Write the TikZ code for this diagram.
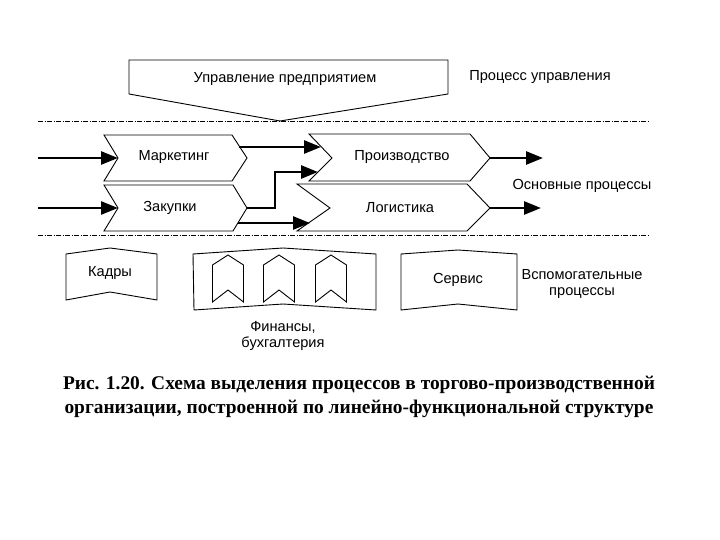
\documentclass[tikz,border=0pt]{standalone}
\usepackage{fontspec}
\setmainfont{Liberation Sans}
\newfontfamily\capfont{Liberation Serif}
\usetikzlibrary{arrows.meta}
\tikzset{
  shp/.style={draw=black, line width=0.9pt, line join=miter, fill=white},
  lbl/.style={font=\fontsize{14.6}{16.5}\selectfont, inner sep=0pt},
  flow/.style={line width=2.6pt, -{Triangle[length=17pt,width=13pt]}},
  sep/.style={line width=0.8pt, dash pattern=on 5pt off 1.5pt on 1pt off 1.5pt},
  captext/.style={font=\capfont\bfseries\fontsize{19.4}{24}\selectfont, inner sep=0pt, align=center}
}
\begin{document}
\begin{tikzpicture}[x=1pt,y=-1pt]
\useasboundingbox (0,0) rectangle (720,540);
% separators
\coordinate (s1a) at (38,121); \coordinate (s1b) at (648,121);
\coordinate (s2a) at (38,235); \coordinate (s2b) at (648,235);
\draw[sep] (s1a) -- (s1b);
\draw[sep] (s2a) -- (s2b);
% management
\draw[shp] (129,60) -- (448,60) -- (448,94) -- (280,121) -- (129,94) -- cycle;
\node[lbl] (upr) at (285,79) {Управление предприятием};
\node[lbl] (lproc) at (540,77) {Процесс управления};
% main processes
\draw[shp] (104,135) -- (232,135) -- (247,158) -- (232,181) -- (104,181) -- (118,158) -- cycle;
\node[lbl] (mark) at (174,157) {Маркетинг};
\draw[shp] (104,185) -- (233,185) -- (247,208) -- (233,231) -- (104,231) -- (118,208) -- cycle;
\node[lbl] (zak) at (170,208) {Закупки};
\draw[shp] (309,134) -- (470,134) -- (490,158) -- (470,181) -- (309,181) -- (332,158) -- cycle;
\node[lbl] (prod) at (402,157) {Производство};
\draw[shp] (297,184) -- (467,184) -- (490,208) -- (467,231) -- (297,231) -- (330,208) -- cycle;
\node[lbl] (log) at (400,208) {Логистика};
\node[lbl] (lmain) at (582,186) {Основные процессы};
% connector anchors
\coordinate (in1) at (38,158); \coordinate (mL) at (118,158);
\coordinate (in2) at (38,208); \coordinate (zL) at (118,208);
\coordinate (mR) at (239,147); \coordinate (pL1) at (321,147);
\coordinate (zR) at (247,208); \coordinate (bend) at (275,172); \coordinate (pL2) at (318,172);
\coordinate (zR2) at (238,223); \coordinate (lL) at (310,223);
\coordinate (pR) at (490,158); \coordinate (pOut) at (543,158);
\coordinate (lR) at (490,208); \coordinate (lOut) at (541,208);
\draw[flow] (in1) -- (mL);
\draw[flow] (in2) -- (zL);
\draw[flow] (mR) -- (pL1);
\draw[flow] (zR) -| (bend) -- (pL2);
\draw[flow] (zR2) -- (lL);
\draw[flow] (pR) -- (pOut);
\draw[flow] (lR) -- (lOut);
% support processes
\draw[shp] (66,254) -- (110,248) -- (157,254) -- (157,300) -- (110,292) -- (66,300) -- cycle;
\node[lbl] (kadr) at (110,273) {Кадры};
\draw[shp] (193,254) -- (283,248) -- (376,254) -- (376,310) -- (283,304) -- (194,310) -- cycle;
\foreach \cx in {228,279,331}{
  \draw[shp] (\cx-15.5,265) -- (\cx,255) -- (\cx+15.5,265) -- (\cx+15.5,302) -- (\cx,290) -- (\cx-15.5,302) -- cycle;
}
\node[lbl, align=center] (fin) at (283,336) {Финансы,\\бухгалтерия};
\draw[shp] (401,254) -- (458,250) -- (517,254) -- (517,310) -- (458,304) -- (401,310) -- cycle;
\node[lbl] (serv) at (458,280) {Сервис};
\node[lbl, align=center] (laux) at (582,284) {Вспомогательные\\процессы};
% caption
\node[captext] (caption) at (359,397) {Рис. 1.20. Схема выделения процессов в торгово-производственной\\организации, построенной по линейно-функциональной структуре};
\end{tikzpicture}
\end{document}
